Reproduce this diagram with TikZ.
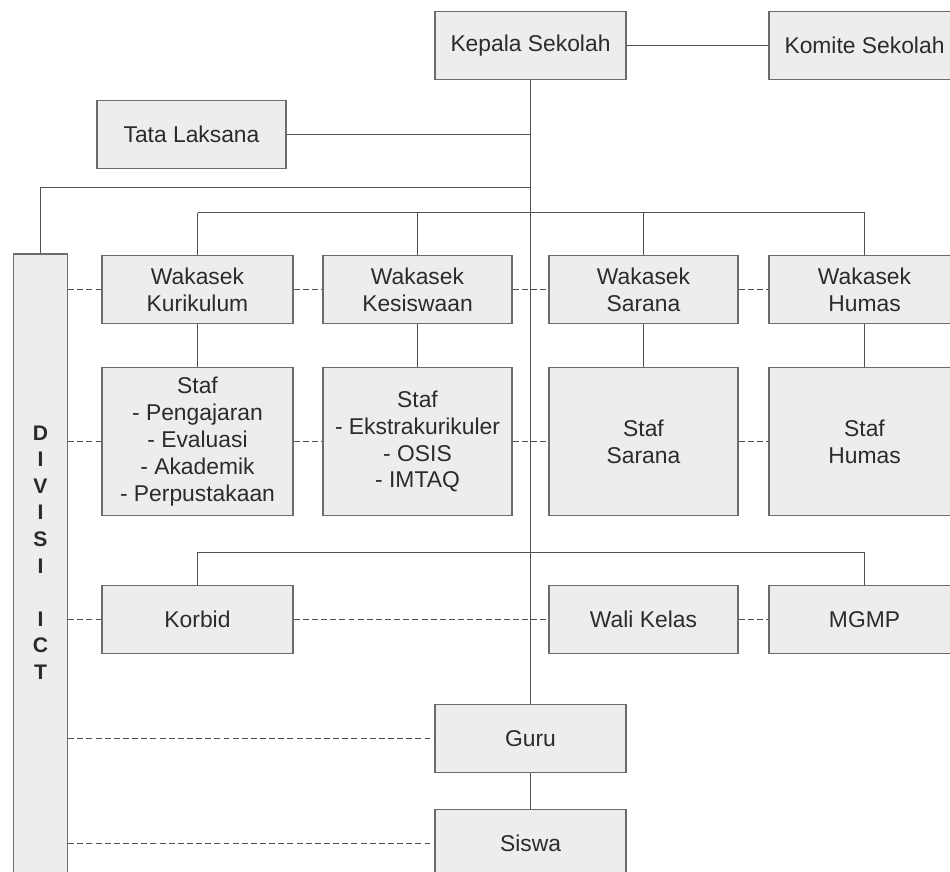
\documentclass[tikz,border=0pt]{standalone}
\usepackage{fontspec}
\setmainfont{Liberation Sans}
\usepackage{tikz}
\usepackage{xcolor}
\usetikzlibrary{positioning}
\definecolor{boxfill}{RGB}{237,237,237}
\definecolor{boxline}{RGB}{112,107,105}
\definecolor{linkline}{RGB}{85,80,78}
\definecolor{txt}{RGB}{45,42,42}

\begin{document}
\begin{tikzpicture}[x=0.02cm,y=-0.02cm,
  box/.style={draw=boxline,fill=boxfill,line width=0.8pt,minimum width=3.82cm,minimum height=1.36cm,inner sep=0pt,align=center,text=txt,font=\fontsize{13}{15.3}\selectfont},
  stafbox/.style={box,minimum height=2.96cm},
  conn/.style={draw=linkline,line width=0.8pt},
  dashconn/.style={draw=linkline,line width=0.8pt,dash pattern=on 3.4pt off 1.8pt}]
\useasboundingbox (0,0) rectangle (950,872);
\clip (0,0) rectangle (950,872);

\node[box] (kepala) at (530.5,45.5) {Kepala Sekolah};
\node[box] (komite) at (864.5,45.5) {Komite Sekolah};
\node[box,minimum width=3.78cm] (tata) at (191.5,134.5) {Tata Laksana};
\node[box,minimum width=1.08cm,minimum height=13.2cm] (divisi) at (40.5,584) {};
\node[text=txt,font=\bfseries\fontsize{12}{15.1}\selectfont,align=center,inner sep=0pt] (divisitext) at (40.5,552.5) {D\\I\\V\\I\\S\\I\\\mbox{}\\I\\C\\T};

\node[box] (kurikulum) at (197.5,289.5) {Wakasek\\Kurikulum};
\node[box,minimum width=3.78cm] (kesiswaan) at (417.5,289.5) {Wakasek\\Kesiswaan};
\node[box,minimum width=3.78cm] (sarana) at (643.5,289.5) {Wakasek\\Sarana};
\node[box] (humas) at (864.5,289.5) {Wakasek\\Humas};

\node[stafbox] (stafkur) at (197.5,441.5) {Staf\\- Pengajaran\\- Evaluasi\\- Akademik\\- Perpustakaan};
\node[stafbox,minimum width=3.78cm] (stafsis) at (417.5,441.5) {Staf\\- Ekstrakurikuler\\- OSIS\\- IMTAQ};
\node[stafbox,minimum width=3.78cm] (stafsar) at (643.5,441.5) {Staf\\Sarana};
\node[stafbox] (stafhum) at (864.5,441.5) {Staf\\Humas};

\node[box] (korbid) at (197.5,619.5) {Korbid};
\node[box,minimum width=3.78cm] (walikelas) at (643.5,619.5) {Wali Kelas};
\node[box] (mgmp) at (864.5,619.5) {MGMP};

\node[box] (guru) at (530.5,738.5) {Guru};
\node[box] (siswa) at (530.5,843.5) {Siswa};

\coordinate (ictbus) at (530.5,187.5);
\coordinate (wakabus) at (0,212.5);
\coordinate (bawahbus) at (0,552.5);

\draw[conn] (kepala) -- (komite);
\draw[conn] (kepala.south) -- (guru.north);
\draw[conn] (tata.east) -- (tata.east -| kepala.south);
\draw[conn] (divisi.north) |- (ictbus);
\draw[conn] (kurikulum.north |- wakabus) -- (humas.north |- wakabus);
\foreach \w/\s in {kurikulum/stafkur,kesiswaan/stafsis,sarana/stafsar,humas/stafhum}{
  \draw[conn] (\w.north) -- (\w.north |- wakabus);
  \draw[conn] (\w) -- (\s);
}
\draw[conn] (korbid.north) |- (bawahbus -| mgmp.north) -- (mgmp.north);
\draw[conn] (guru) -- (siswa);

\foreach \n in {kurikulum,stafkur,korbid,guru,siswa}
  \draw[dashconn] (divisi.east |- \n.west) -- (\n.west);
\foreach \a/\b in {kurikulum/kesiswaan,kesiswaan/sarana,sarana/humas,stafkur/stafsis,stafsis/stafsar,stafsar/stafhum,korbid/walikelas,walikelas/mgmp}
  \draw[dashconn] (\a.east) -- (\b.west);
\end{tikzpicture}
\end{document}
